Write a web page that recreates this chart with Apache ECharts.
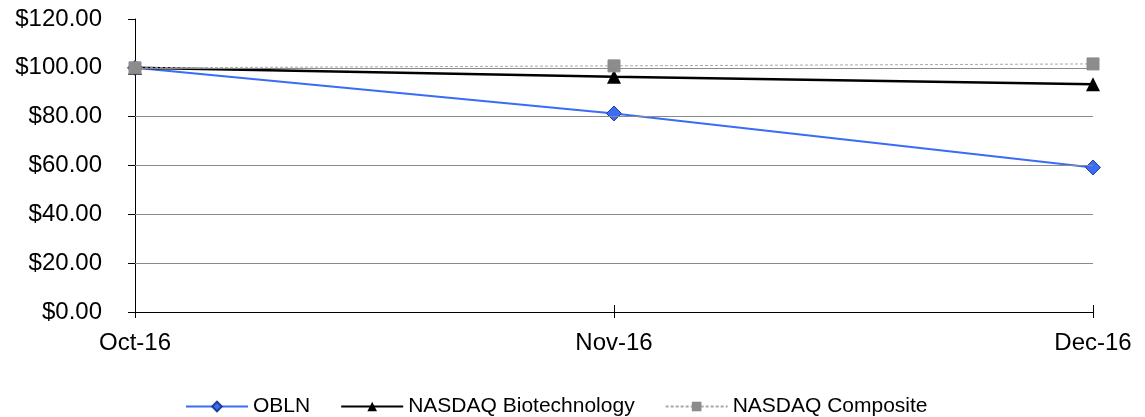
<!DOCTYPE html>
<html>
<head>
<meta charset="utf-8">
<script src="https://cdn.jsdelivr.net/npm/echarts@6/dist/echarts.min.js"></script>
<style>html,body{margin:0;padding:0;background:#fff}#c{width:1145px;height:417px}</style>
</head>
<body>
<div id="c"></div>
<script>
var categories = ['Oct-16', 'Nov-16', 'Dec-16'];
var obln = [100, 81.3, 59.2];
var nasdaqBio = [100, 96.3, 93.3];
var nasdaqComp = [100, 100.8, 101.6];
var gridValues = [20, 40, 60, 80, 100];

var chart = echarts.init(document.getElementById('c'), null, {renderer: 'canvas'});
var font = 'Liberation Sans, Arial, sans-serif';
chart.setOption({
  animation: false,
  grid: {left: 135, right: 52, top: 19, bottom: 105, containLabel: false},
  legend: {
    top: 391, left: 180,
    itemWidth: 62, itemHeight: 12, itemGap: 30,
    textStyle: {fontFamily: font, fontSize: 21, color: '#000'},
    data: ['OBLN', 'NASDAQ Biotechnology', 'NASDAQ Composite']
  },
  xAxis: [{
    type: 'category', data: categories, boundaryGap: false,
    axisLine: {lineStyle: {color: '#000', width: 1}},
    axisTick: {show: true, length: 6, lineStyle: {color: '#000'}},
    axisLabel: {fontFamily: font, fontSize: 24, color: '#000', margin: 19}
  }, {
    type: 'category', data: categories, boundaryGap: false, position: 'bottom',
    axisLine: {show: false},
    axisTick: {show: true, inside: true, length: 7, lineStyle: {color: '#000'}},
    axisLabel: {show: false}
  }],
  yAxis: {
    type: 'value', min: 0, max: 120, interval: 20,
    axisLine: {show: true, lineStyle: {color: '#000'}},
    axisTick: {show: true, length: 7, lineStyle: {color: '#000'}},
    splitLine: {show: false},
    axisLabel: {fontFamily: font, fontSize: 24, color: '#000', margin: 33,
      formatter: function (v) { return '$' + v.toFixed(2); }}
  },
  series: [{
    name: 'OBLN', type: 'line', data: obln,
    symbol: 'diamond', symbolSize: 15,
    itemStyle: {color: '#3a6cf4', borderColor: '#1f3f9a', borderWidth: 1},
    lineStyle: {color: '#3a6cf4', width: 2},
    markLine: {
      silent: true, symbol: 'none', label: {show: false},
      lineStyle: {color: '#8a8a8a', width: 1, type: 'solid'},
      data: gridValues.map(function (v) { return {yAxis: v}; })
    },
    z: 2
  }, {
    name: 'NASDAQ Biotechnology', type: 'line', data: nasdaqBio,
    symbol: 'triangle', symbolSize: 14,
    itemStyle: {color: '#000'},
    lineStyle: {color: '#000', width: 2.5},
    z: 3
  }, {
    name: 'NASDAQ Composite', type: 'line', data: nasdaqComp,
    symbol: 'rect', symbolSize: 12,
    itemStyle: {color: '#8c8c8c', borderColor: '#8c8c8c'},
    lineStyle: {color: '#a8a8a8', width: 1, type: [3, 2]},
    z: 4
  }]
});
</script>
</body>
</html>
